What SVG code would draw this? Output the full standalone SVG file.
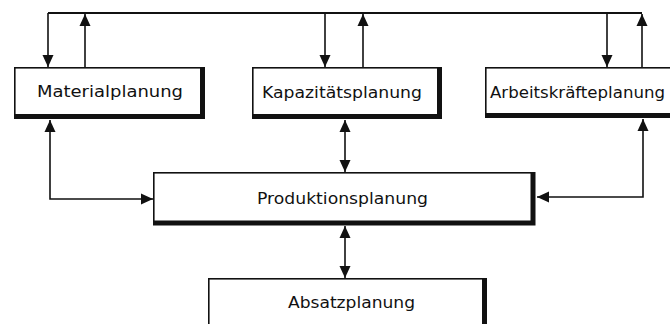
<svg xmlns="http://www.w3.org/2000/svg" width="670" height="324" viewBox="0 0 670 324">
<style>
.box{fill:#fff;stroke:#111;stroke-width:1.6}
.sh{fill:none;stroke:#111;stroke-width:5;stroke-linejoin:miter}
.lbl{font-family:"DejaVu Sans","Liberation Sans",sans-serif;font-size:16px;fill:#111;text-anchor:middle}
.c{fill:none;stroke:#111;stroke-width:1.6}
</style>
<defs>
<marker id="ah" markerUnits="userSpaceOnUse" markerWidth="14" markerHeight="14" refX="12" refY="7" orient="auto-start-reverse" viewBox="0 0 14 14">
<path d="M0,1.5 L12,7 L0,12.5 z" fill="#111"/>
</marker>
</defs>
<rect width="670" height="324" fill="#fff"/>
<g id="connectors">
<path class="c" d="M48,13 H642" style="stroke-width:2"/>
<path class="c" d="M48,13 V67" marker-end="url(#ah)"/>
<path class="c" d="M85,67 V14" marker-end="url(#ah)"/>
<path class="c" d="M325,13 V67" marker-end="url(#ah)"/>
<path class="c" d="M363,67 V14" marker-end="url(#ah)"/>
<path class="c" d="M607,13 V67" marker-end="url(#ah)"/>
<path class="c" d="M642,67 V14" marker-end="url(#ah)"/>
<path class="c" d="M50,120 V199 H153" marker-start="url(#ah)" marker-end="url(#ah)"/>
<path class="c" d="M643,119 V197 H537" marker-start="url(#ah)" marker-end="url(#ah)"/>
<path class="c" d="M345,120 V172" marker-start="url(#ah)" marker-end="url(#ah)"/>
<path class="c" d="M345,226 V278" marker-start="url(#ah)" marker-end="url(#ah)"/>
</g>
<g id="materialplanung">
<rect class="box" x="14.8" y="67.8" width="188" height="49"/>
<path class="sh" d="M202.5,67 V116.5 H14"/>
<text class="lbl" x="110" y="96.5" textLength="146" lengthAdjust="spacingAndGlyphs">Materialplanung</text>
</g>
<g id="kapazitaetsplanung">
<rect class="box" x="252.8" y="67.8" width="187" height="49"/>
<path class="sh" d="M439.5,67 V116.5 H252"/>
<text class="lbl" x="342" y="97.5" textLength="160" lengthAdjust="spacingAndGlyphs">Kapazitätsplanung</text>
</g>
<g id="arbeitskraefteplanung">
<rect class="box" x="485.8" y="67.8" width="190" height="48"/>
<path class="sh" d="M674,115.5 H485"/>
<text class="lbl" x="577.5" y="97.5" textLength="175" lengthAdjust="spacingAndGlyphs">Arbeitskräfteplanung</text>
</g>
<g id="produktionsplanung">
<rect class="box" x="153.8" y="172.8" width="379" height="50"/>
<path class="sh" d="M533,172 V223 H153"/>
<text class="lbl" x="342.5" y="203.5" textLength="171" lengthAdjust="spacingAndGlyphs">Produktionsplanung</text>
</g>
<g id="absatzplanung">
<rect class="box" x="208.8" y="278.8" width="275" height="60"/>
<path class="sh" d="M484.5,278 V330"/>
<text class="lbl" x="351.5" y="307.5" textLength="127" lengthAdjust="spacingAndGlyphs">Absatzplanung</text>
</g>
</svg>
